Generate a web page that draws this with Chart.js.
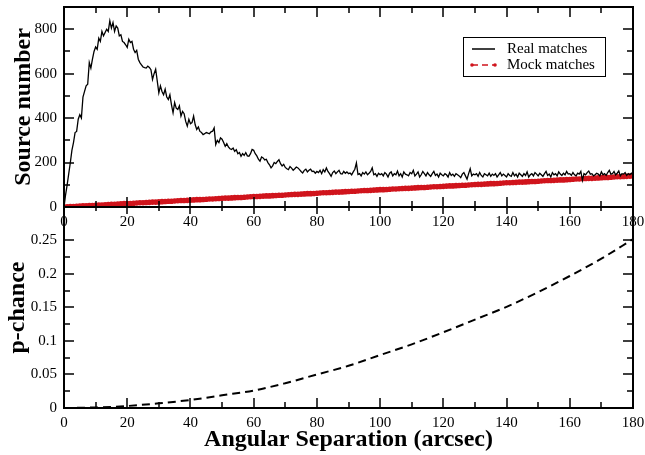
<!DOCTYPE html>
<html>
<head>
<title>Source number and p-chance vs angular separation</title>
<script src="https://cdn.jsdelivr.net/npm/chart.js@4.4.1/dist/chart.umd.min.js"></script>
<style>
  body { margin: 0; background: #fff; }
  #wrap { position: relative; width: 645px; height: 455px; background: #fff; }
  #top { position: absolute; left: 0; top: 0; }
  #bottom { position: absolute; left: 0; top: 200px; }
</style>
</head>
<body>
<div id="wrap">
  <canvas id="top" width="645" height="240"></canvas>
  <canvas id="bottom" width="645" height="255"></canvas>
</div>
<script>

// real matches: bins of 0.5 arcsec
var sepReal = [];
for (var i = 0; i <= 360; i++) sepReal.push(i / 2);

var realMatches = [
  0, 55, 100, 150, 200, 255, 290, 335, 340, 395, 415, 400, 495, 520, 545, 552, 650, 625, 665, 700,
  720, 710, 760, 745, 790, 770, 785, 800, 790, 838, 805, 830, 790, 815, 805, 770, 775, 745, 740, 730,
  718, 755, 740, 745, 710, 695, 705, 665, 650, 640, 630, 627, 625, 634, 628, 618, 574, 600, 620, 567,
  514, 545, 520, 505, 530, 495, 484, 505, 460, 424, 470, 445, 439, 455, 409, 430, 420, 385, 364, 395,
  375, 380, 409, 370, 349, 360, 340, 335, 326, 330, 335, 332, 330, 338, 341, 356, 281, 300, 290, 311,
  305, 290, 273, 285, 270, 262, 259, 265, 250, 258, 240, 245, 228, 240, 232, 245, 230, 228, 240, 259,
  255, 240, 230, 215, 206, 225, 221, 212, 215, 200, 190, 176, 185, 200, 195, 205, 213, 195, 185, 192,
  178, 172, 168, 182, 175, 165, 172, 180, 176, 168, 160, 153, 165, 170, 158, 165, 170, 160, 161, 152,
  160, 155, 165, 150, 168, 158, 176, 160, 150, 138, 155, 162, 150, 158, 165, 150, 148, 160, 152, 158,
  150, 153, 145, 158, 170, 198, 146, 150, 140, 155, 148, 158, 145, 152, 160, 176, 145, 150, 138, 152,
  145, 150, 140, 155, 148, 135, 152, 158, 140, 150, 145, 162, 140, 150, 135, 158, 148, 145, 140, 155,
  150, 165, 140, 148, 158, 135, 145, 160, 150, 140, 155, 145, 138, 150, 160, 142, 148, 135, 152, 145,
  140, 150, 145, 135, 155, 142, 148, 138, 150, 145, 140, 132, 148, 155, 140, 125, 150, 172, 140, 148,
  145, 150, 138, 155, 142, 135, 150, 145, 140, 152, 138, 148, 142, 150, 135, 145, 155, 140, 148, 142,
  135, 150, 142, 138, 155, 140, 148, 135, 152, 145, 138, 150, 142, 158, 135, 145, 150, 140, 155, 148,
  140, 152, 145, 138, 150, 160, 142, 148, 135, 155, 145, 150, 140, 158, 148, 142, 152, 145, 160, 148,
  150, 142, 155, 145, 140, 152, 148, 160, 120, 150, 145, 155, 162, 148, 150, 140, 145, 152, 148, 140,
  158, 145, 150, 142, 155, 165, 148, 150, 160, 145, 152, 162, 140, 150, 148, 155, 142, 150, 145, 152,
  145
];

// mock matches: one value per arcsec
var sepMock = [];
for (var j = 0; j <= 180; j++) sepMock.push(j);

var mockMatches = [
  0, 1, 2, 2, 3, 4, 5, 5, 6, 7,
  8, 9, 9, 10, 11, 12, 12, 13, 14, 15,
  16, 16, 17, 18, 19, 19, 20, 21, 22, 22,
  23, 24, 25, 26, 26, 27, 28, 29, 29, 30,
  31, 32, 33, 33, 34, 35, 36, 36, 37, 38,
  39, 40, 40, 41, 42, 43, 43, 44, 45, 46,
  47, 47, 48, 49, 50, 50, 51, 52, 53, 53,
  54, 55, 56, 57, 57, 58, 59, 60, 60, 61,
  62, 63, 64, 64, 65, 66, 67, 67, 68, 69,
  70, 71, 71, 72, 73, 74, 74, 75, 76, 77,
  78, 78, 79, 80, 81, 81, 82, 83, 84, 84,
  85, 86, 87, 88, 88, 89, 90, 91, 91, 92,
  93, 94, 95, 95, 96, 97, 98, 98, 99, 100,
  101, 102, 102, 103, 104, 105, 105, 106, 107, 108,
  109, 109, 110, 111, 112, 112, 113, 114, 115, 115,
  116, 117, 118, 119, 119, 120, 121, 122, 122, 123,
  124, 125, 126, 126, 127, 128, 129, 129, 130, 131,
  132, 133, 133, 134, 135, 136, 136, 137, 138, 139,
  140
];

var sepChance = [0, 10, 20, 30, 40, 50, 60, 70, 80, 90, 100, 110, 120, 130, 140, 150, 160, 170, 180];
var pChance = [0, 0.0008, 0.003, 0.007, 0.012, 0.019, 0.026, 0.037, 0.05, 0.063, 0.079, 0.095, 0.113, 0.132, 0.151, 0.173, 0.197, 0.223, 0.252];

var xTicks = [0, 20, 40, 60, 80, 100, 120, 140, 160, 180];
var srcTicks = [0, 200, 400, 600, 800];
var pTicks = [0, 0.05, 0.1, 0.15, 0.2, 0.25];

var serif = "'Liberation Serif', 'Times New Roman', serif";
var red = '#d0141c';

function pts(xs, ys) {
  return xs.map(function (x, i) { return {x: x, y: ys[i]}; });
}

// inward ticks on all four sides plus the frame (xmgrace look)
var frameTicks = {
  id: 'frameTicks',
  afterDatasetsDraw: function (chart, args, o) {
    var ctx = chart.ctx, a = chart.chartArea;
    var x = chart.scales.x, y = chart.scales.y;
    var topMaj = o.topMajor || 10, topMin = o.topMinor || 6;
    ctx.save();
    ctx.strokeStyle = '#000';
    ctx.lineWidth = 1.5;
    ctx.beginPath();
    for (var v = 10; v < 180; v += 10) {
      var px = Math.round(x.getPixelForValue(v));
      var major = v % 20 === 0;
      ctx.moveTo(px, a.bottom); ctx.lineTo(px, a.bottom - (major ? 10 : 6));
      ctx.moveTo(px, a.top); ctx.lineTo(px, a.top + (major ? topMaj : topMin));
    }
    for (var k = 1; k * o.minor <= o.last + 1e-9; k++) {
      var py = Math.round(y.getPixelForValue(k * o.minor));
      var l2 = k % 2 === 0 ? 10 : 6;
      ctx.moveTo(a.left, py); ctx.lineTo(a.left + l2, py);
      ctx.moveTo(a.right, py); ctx.lineTo(a.right - l2, py);
    }
    ctx.stroke();
    ctx.lineWidth = 2;
    ctx.strokeRect(a.left, a.top, a.right - a.left, a.bottom - a.top);
    ctx.restore();
  }
};

var legendBox = {
  id: 'legendBox',
  afterDraw: function (chart) {
    var ctx = chart.ctx;
    ctx.save();
    ctx.fillStyle = '#fff';
    ctx.fillRect(463, 37, 142, 39);
    ctx.strokeStyle = '#000';
    ctx.lineWidth = 1;
    ctx.strokeRect(463.5, 37.5, 142, 39);
    chart.data.datasets.forEach(function (d, i) {
      var yy = 49 + i * 16;
      ctx.strokeStyle = d.borderColor;
      ctx.lineWidth = 1.5;
      ctx.setLineDash(d.borderDash || []);
      ctx.beginPath(); ctx.moveTo(472, yy); ctx.lineTo(495, yy); ctx.stroke();
      ctx.setLineDash([]);
      if (d.pointRadius > 0) {
        ctx.fillStyle = d.borderColor;
        [472, 495].forEach(function (cx) {
          ctx.beginPath(); ctx.arc(cx, yy, 1.8, 0, Math.PI * 2); ctx.fill();
        });
      }
      ctx.fillStyle = '#000';
      ctx.font = '15px ' + serif;
      ctx.textBaseline = 'middle';
      ctx.fillText(d.label, 507, yy);
    });
    ctx.restore();
  }
};

function xScale(height, title) {
  return {
    type: 'linear', min: 0, max: 180,
    afterBuildTicks: function (s) { s.ticks = xTicks.map(function (v) { return {value: v}; }); },
    ticks: { font: {family: serif, size: 15}, color: '#000', padding: 6, maxRotation: 0 },
    grid: { display: false, drawTicks: false },
    border: { display: false },
    title: title ? { display: true, text: title, color: '#000',
      font: {family: serif, size: 24, weight: 'bold'}, padding: {top: 0, bottom: 1} } : { display: false },
    afterFit: function (s) { s.height = height; s.paddingLeft = 0; s.paddingRight = 0; }
  };
}

function yScale(max, list, title, tpad) {
  return {
    min: 0, max: max,
    afterBuildTicks: function (s) { s.ticks = list.map(function (v) { return {value: v}; }); },
    ticks: { font: {family: serif, size: 15}, color: '#000', padding: 7,
      callback: function (v) { return String(Number(v.toFixed(3))); } },
    grid: { display: false, drawTicks: false },
    border: { display: false },
    title: { display: true, text: title, color: '#000',
      font: {family: serif, size: 24, weight: 'bold'}, padding: {top: tpad, bottom: 0} },
    afterFit: function (s) { s.width = 64; s.paddingTop = 0; s.paddingBottom = 0; }
  };
}

new Chart(document.getElementById('top').getContext('2d'), {
  type: 'line',
  data: {
    datasets: [{
      label: 'Real matches',
      data: pts(sepReal, realMatches),
      borderColor: '#000', borderWidth: 1.3, pointRadius: 0, tension: 0
    }, {
      label: 'Mock matches',
      data: pts(sepMock, mockMatches),
      borderColor: red, backgroundColor: red, borderWidth: 2, borderDash: [6, 4],
      pointRadius: 2.8, pointBorderWidth: 0, tension: 0
    }]
  },
  options: {
    responsive: false, animation: false, events: [],
    layout: { padding: {top: 7, right: 12, left: 0, bottom: 0} },
    scales: { x: xScale(33), y: yScale(900, srcTicks, 'Source number', 9) },
    plugins: { legend: {display: false}, tooltip: {enabled: false},
      frameTicks: { minor: 100, last: 800 } }
  },
  plugins: [frameTicks, legendBox]
});

new Chart(document.getElementById('bottom').getContext('2d'), {
  type: 'line',
  data: {
    datasets: [{
      label: 'p-chance',
      data: pts(sepChance, pChance),
      borderColor: '#000', borderWidth: 2, borderDash: [8, 5],
      pointRadius: 0, cubicInterpolationMode: 'monotone'
    }]
  },
  options: {
    responsive: false, animation: false, events: [],
    layout: { padding: {top: 7, right: 12, left: 0, bottom: 0} },
    scales: { x: xScale(47, 'Angular Separation (arcsec)'), y: yScale(0.3, pTicks, 'p-chance', 3) },
    plugins: { legend: {display: false}, tooltip: {enabled: false},
      frameTicks: { minor: 0.025, last: 0.25, topMajor: 7, topMinor: 4 } }
  },
  plugins: [frameTicks]
});

</script>
</body>
</html>
